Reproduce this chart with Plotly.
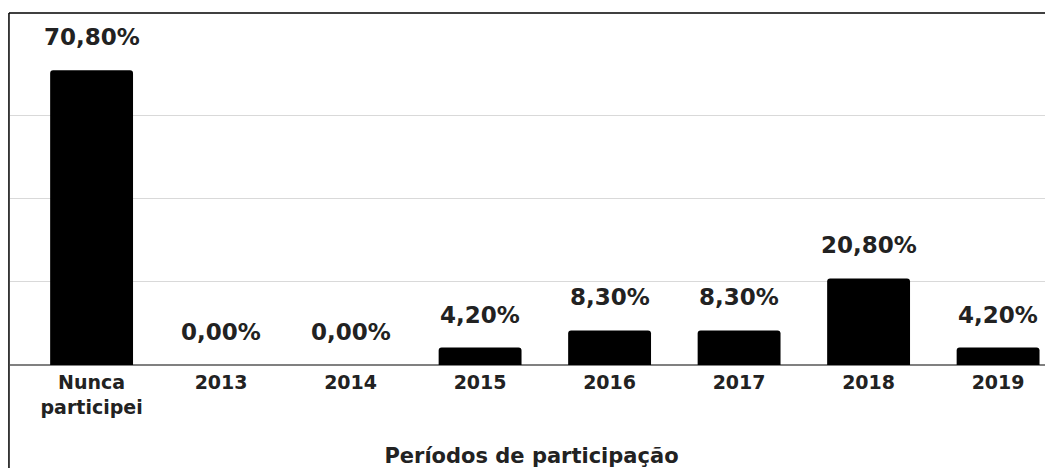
import plotly.graph_objects as go

categories = ["Nunca participei", "2013", "2014", "2015", "2016", "2017", "2018", "2019"]
values = [70.8, 0.0, 0.0, 4.2, 8.3, 8.3, 20.8, 4.2]
labels = ["70,80%", "0,00%", "0,00%", "4,20%", "8,30%", "8,30%", "20,80%", "4,20%"]
x_title = "Períodos de participação"

FONT = "DejaVu Sans"
TXT = "#222222"

pos = list(range(len(categories)))
tick_text = ["<b>" + c.replace(" ", "<br>") + "</b>" for c in categories]

fig = go.Figure()
fig.add_trace(go.Bar(
    x=pos, y=values,
    marker=dict(color="#000000", cornerradius=3, line=dict(width=0)),
    width=0.64,
    hoverinfo="skip",
))

for p, v, t in zip(pos, values, labels):
    fig.add_annotation(
        x=p, y=v, text=f"<b>{t}</b>", showarrow=False,
        xanchor="center", yanchor="bottom", yshift=18,
        font=dict(family=FONT, size=23, color=TXT),
    )

fig.update_layout(
    width=1045, height=460,
    margin=dict(l=2, r=0, t=24, b=103),
    paper_bgcolor="white", plot_bgcolor="white",
    showlegend=False,
    xaxis=dict(
        range=[-0.63, 7.424],
        tickmode="array", tickvals=pos, ticktext=tick_text,
        showgrid=False, zeroline=False, showline=False, ticks="",
        tickfont=dict(family=FONT, size=19, color=TXT),
        title=dict(text=f"<b>{x_title}</b>",
                   font=dict(family=FONT, size=21, color=TXT),
                   standoff=49),
        tickangle=0,
        ticklabelstandoff=4,
        automargin=False,
    ),
    yaxis=dict(
        range=[0, 80],
        dtick=20,
        showticklabels=False,
        showgrid=True, gridcolor="#d9d9d9", gridwidth=1,
        zeroline=True, zerolinecolor="#808080", zerolinewidth=2,
        showline=False,
        automargin=False,
    ),
)

# outer frame (top and left edges of the original chart box)
fig.add_shape(type="line", xref="paper", yref="paper",
              x0=-0.001, x1=1.01, y0=1.057, y1=1.057,
              line=dict(color="#000000", width=1.5))
fig.add_shape(type="line", xref="paper", yref="paper",
              x0=-0.001, x1=-0.001, y0=1.057, y1=-0.4,
              line=dict(color="#000000", width=1.5))

fig.write_html("out.html")
